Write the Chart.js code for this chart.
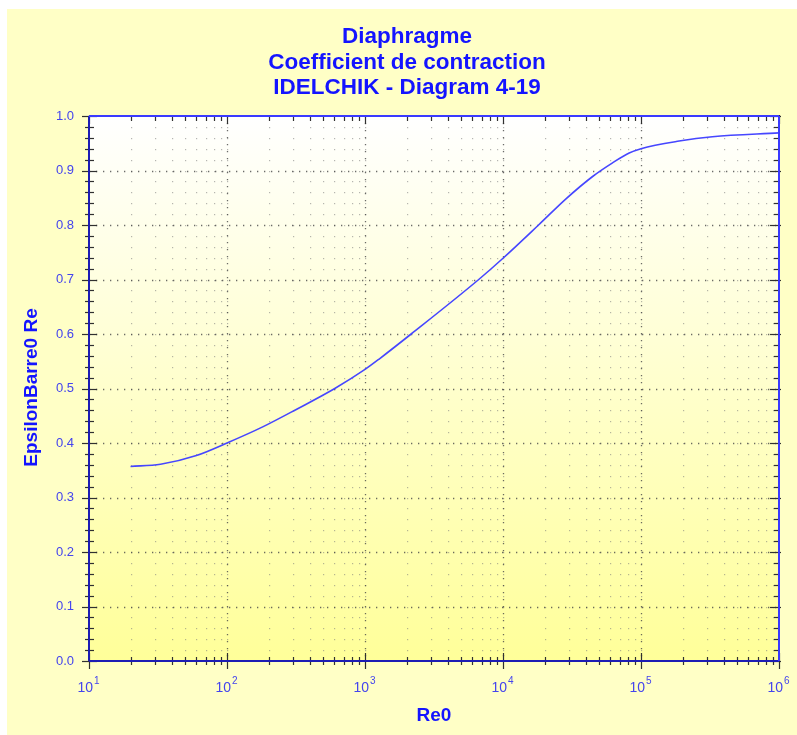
<!DOCTYPE html>
<html>
<head>
<meta charset="utf-8">
<script src="https://cdn.jsdelivr.net/npm/chart.js@4"></script>
<style>
  html, body { margin: 0; padding: 0; background: #ffffff; }
  #wrap { width: 797px; height: 735px; }
</style>
</head>
<body>
<div id="wrap"><canvas id="c" width="797" height="735"></canvas></div>
<script>
// ---- Data ----
const titleLines = ['Diaphragme', 'Coefficient de contraction', 'IDELCHIK - Diagram 4-19'];
const xAxisTitle = 'Re0';
const yAxisTitle = 'EpsilonBarre0 Re';

const reValues = [20, 33, 60, 100, 183, 320, 604, 1000, 1280, 2160, 6670, 10000, 18100, 28600, 44600, 62200, 82100, 100000, 189000, 329000, 1000000];
const epsValues = [0.357, 0.361, 0.377, 0.400, 0.430, 0.462, 0.500, 0.535, 0.555, 0.600, 0.700, 0.739, 0.800, 0.848, 0.889, 0.914, 0.932, 0.940, 0.954, 0.962, 0.969];

const xTickValues = [10, 100, 1000, 10000, 100000, 1000000];
const xTickBase = '10';
const xTickExponents = ['1', '2', '3', '4', '5', '6'];
const xMinorMultipliers = [2, 3, 4, 5, 6, 7, 8, 9];

const yTickValues = [0.0, 0.1, 0.2, 0.3, 0.4, 0.5, 0.6, 0.7, 0.8, 0.9, 1.0];
const yTickLabels = ['0.0', '0.1', '0.2', '0.3', '0.4', '0.5', '0.6', '0.7', '0.8', '0.9', '1.0'];
const yMinorStep = 0.02;

// ---- Styles ----
const FONT = '"Liberation Sans", Arial, sans-serif';
const TITLE_COLOR = '#1414ff';
const TICK_LABEL_COLOR = '#4444ee';
const LINE_COLOR = '#4646ff';

function minorXValues() {
  const out = [];
  for (let i = 0; i < xTickValues.length - 1; i++) {
    for (const m of xMinorMultipliers) out.push(xTickValues[i] * m);
  }
  return out;
}
function minorYValues() {
  const out = [];
  const n = Math.round((yTickValues[yTickValues.length - 1] - yTickValues[0]) / yMinorStep);
  for (let k = 0; k <= n; k++) {
    const v = +(yTickValues[0] + k * yMinorStep).toFixed(4);
    if (Math.abs(v * 10 - Math.round(v * 10)) > 1e-6) out.push(v);
  }
  return out;
}

const decorPlugin = {
  id: 'decor',
  beforeDraw(chart) {
    const ctx = chart.ctx, a = chart.chartArea;
    ctx.save();
    ctx.fillStyle = '#ffffff';
    ctx.fillRect(0, 0, chart.width, chart.height);
    ctx.fillStyle = '#ffffc6';
    ctx.fillRect(7, 9, chart.width - 7, chart.height - 9);
    const g = ctx.createLinearGradient(0, a.top, 0, a.bottom);
    g.addColorStop(0, '#ffffff');
    g.addColorStop(1, '#ffff99');
    ctx.fillStyle = g;
    ctx.fillRect(a.left, a.top, a.right - a.left, a.bottom - a.top);
    ctx.restore();
  },
  beforeDatasetsDraw(chart) {
    const ctx = chart.ctx, a = chart.chartArea;
    const xs = chart.scales.x, ys = chart.scales.y;
    const mx = minorXValues(), my = minorYValues();
    ctx.save();
    // minor grid: dots at intersections
    ctx.fillStyle = 'rgba(120,120,120,0.55)';
    const allX = mx.concat(xTickValues);
    const allY = my.concat(yTickValues);
    for (const xv of allX) {
      const px = Math.round(xs.getPixelForValue(xv));
      for (const yv of allY) {
        const py = Math.round(ys.getPixelForValue(yv));
        if (px <= a.left + 1 || px >= a.right - 1 || py <= a.top + 1 || py >= a.bottom - 1) continue;
        ctx.fillRect(px, py, 1.2, 1.2);
      }
    }
    // major grid: dotted lines
    ctx.strokeStyle = 'rgba(70,70,70,0.8)';
    ctx.lineWidth = 1.3;
    ctx.setLineDash([1.3, 5.7]);
    for (const yv of yTickValues.slice(1, -1)) {
      const py = Math.round(ys.getPixelForValue(yv)) + 0.5;
      ctx.beginPath(); ctx.moveTo(a.left, py); ctx.lineTo(a.right, py); ctx.stroke();
    }
    for (const xv of xTickValues.slice(1, -1)) {
      const px = Math.round(xs.getPixelForValue(xv)) + 0.5;
      ctx.beginPath(); ctx.moveTo(px, a.top); ctx.lineTo(px, a.bottom); ctx.stroke();
    }
    ctx.restore();
  },
  afterDatasetsDraw(chart) {
    const ctx = chart.ctx, a = chart.chartArea;
    const xs = chart.scales.x, ys = chart.scales.y;
    const mx = minorXValues(), my = minorYValues();
    ctx.save();
    const line = (x1, y1, x2, y2) => { ctx.beginPath(); ctx.moveTo(x1, y1); ctx.lineTo(x2, y2); ctx.stroke(); };

    // tick marks
    ctx.strokeStyle = '#303030';
    ctx.lineWidth = 1.2;
    for (const yv of yTickValues) {
      const py = Math.round(ys.getPixelForValue(yv)) + 0.5;
      line(a.left - 7, py, a.left + 8, py);
      line(a.right - 9, py, a.right + 2, py);
    }
    for (const yv of my) {
      const py = Math.round(ys.getPixelForValue(yv)) + 0.5;
      line(a.left - 4, py, a.left + 5, py);
      line(a.right - 5, py, a.right + 1, py);
    }
    for (const xv of xTickValues) {
      const px = Math.round(xs.getPixelForValue(xv)) + 0.5;
      line(px, a.bottom - 8, px, a.bottom + 8);
      line(px, a.top - 1, px, a.top + 8);
    }
    for (const xv of mx) {
      const px = Math.round(xs.getPixelForValue(xv)) + 0.5;
      line(px, a.bottom - 4, px, a.bottom + 4);
      line(px, a.top - 1, px, a.top + 5);
    }
    // axis frame
    ctx.lineWidth = 2;
    ctx.strokeStyle = '#1c1cb4';
    line(a.left, a.bottom, a.right, a.bottom);
    line(a.left, a.top, a.left, a.bottom);
    ctx.strokeStyle = '#3a3aff';
    line(a.left, a.top, a.right, a.top);
    line(a.right, a.top, a.right, a.bottom);

    // y tick labels
    ctx.fillStyle = TICK_LABEL_COLOR;
    ctx.font = '13px ' + FONT;
    ctx.textAlign = 'right';
    ctx.textBaseline = 'middle';
    yTickValues.forEach((v, i) => {
      ctx.fillText(yTickLabels[i], a.left - 15, ys.getPixelForValue(v));
    });
    // x tick labels with superscript exponent
    ctx.textBaseline = 'alphabetic';
    ctx.textAlign = 'left';
    xTickValues.forEach((v, i) => {
      const px = xs.getPixelForValue(v);
      ctx.font = '14px ' + FONT;
      const wb = ctx.measureText(xTickBase).width;
      ctx.font = '10px ' + FONT;
      const we = ctx.measureText(xTickExponents[i]).width;
      const x0 = px - (wb + we) / 2 - 1;
      ctx.font = '14px ' + FONT;
      ctx.fillText(xTickBase, x0, 692);
      ctx.font = '10px ' + FONT;
      ctx.fillText(xTickExponents[i], x0 + wb + 1, 684);
    });

    // titles
    ctx.fillStyle = TITLE_COLOR;
    ctx.font = 'bold 22.5px ' + FONT;
    ctx.textAlign = 'center';
    const tb = [43, 68.5, 94];
    titleLines.forEach((t, i) => ctx.fillText(t, 407, tb[i]));
    // axis titles
    ctx.font = 'bold 19px ' + FONT;
    ctx.fillText(xAxisTitle, (a.left + a.right) / 2, 721);
    ctx.save();
    ctx.translate(37, (a.top + a.bottom) / 2 - 1);
    ctx.rotate(-Math.PI / 2);
    ctx.textAlign = 'center';
    ctx.fillText(yAxisTitle, 0, 0);
    ctx.restore();
    ctx.restore();
  }
};

new Chart(document.getElementById('c'), {
  type: 'line',
  data: {
    datasets: [{
      label: yAxisTitle,
      data: reValues.map((x, i) => ({ x: x, y: epsValues[i] })),
      borderColor: LINE_COLOR,
      borderWidth: 1.6,
      pointRadius: 0,
      fill: false,
      cubicInterpolationMode: 'monotone'
    }]
  },
  options: {
    responsive: false,
    animation: false,
    devicePixelRatio: 1,
    layout: { padding: { left: 89, right: 18, top: 116, bottom: 74 } },
    plugins: { legend: { display: false }, title: { display: false }, tooltip: { enabled: false } },
    scales: {
      x: {
        type: 'logarithmic', min: 10, max: 1000000,
        ticks: { display: false }, grid: { display: false }, border: { display: false },
        afterFit: s => { s.height = 0; }
      },
      y: {
        type: 'linear', min: 0, max: 1,
        ticks: { display: false }, grid: { display: false }, border: { display: false },
        afterFit: s => { s.width = 0; }
      }
    }
  },
  plugins: [decorPlugin]
});
</script>
</body>
</html>
